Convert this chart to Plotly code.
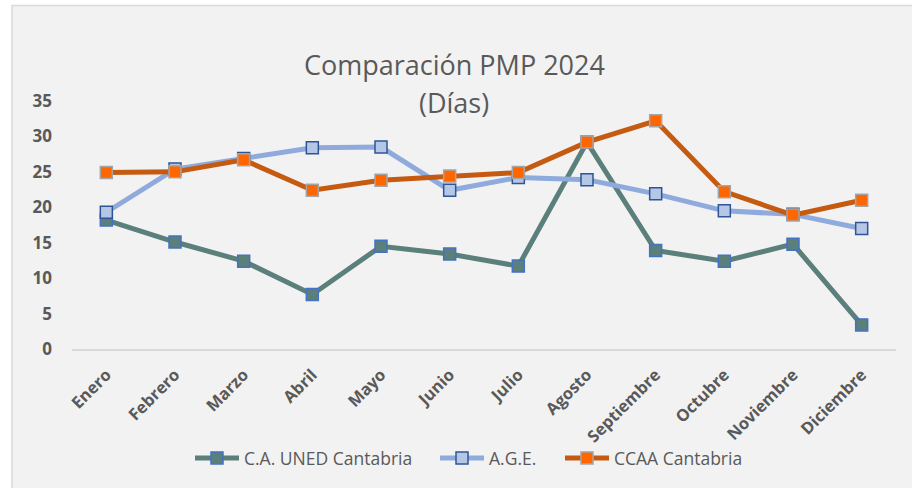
import plotly.graph_objects as go

months = ["Enero", "Febrero", "Marzo", "Abril", "Mayo", "Junio", "Julio",
          "Agosto", "Septiembre", "Octubre", "Noviembre", "Diciembre"]
uned = [18.2, 15.1, 12.4, 7.7, 14.5, 13.4, 11.7, 29.2, 13.9, 12.4, 14.8, 3.4]
age = [19.3, 25.4, 26.9, 28.4, 28.5, 22.4, 24.2, 23.9, 21.9, 19.5, 19.0, 17.0]
ccaa = [24.9, 25.0, 26.7, 22.4, 23.8, 24.4, 24.9, 29.2, 32.2, 22.2, 18.9, 21.0]
y_ticks = [0, 5, 10, 15, 20, 25, 30, 35]

FONT = "Open Sans"
GREY = "#595959"
L, R, T, B, W, H = 72, 16, 101, 139, 912, 488


def px_x(p):
    return (p - L) / (W - L - R)


def px_y(p):
    return (H - B - p) / (H - T - B)


fig = go.Figure()
fig.add_trace(go.Scatter(
    x=months, y=uned, name="C.A. UNED Cantabria", mode="lines+markers",
    line=dict(color="#5B7F7B", width=5), legend="legend",
    marker=dict(symbol="square", size=12, color="#5B7F7B",
                line=dict(color="#4472C4", width=1.5))))
fig.add_trace(go.Scatter(
    x=months, y=age, name="A.G.E.", mode="lines+markers",
    line=dict(color="#8FAADC", width=5), legend="legend2",
    marker=dict(symbol="square", size=12, color="#B4C7E7",
                line=dict(color="#2F5597", width=1.5))))
fig.add_trace(go.Scatter(
    x=months, y=ccaa, name="CCAA Cantabria", mode="lines+markers",
    line=dict(color="#C55A11", width=5), legend="legend3",
    marker=dict(symbol="square", size=12, color="#FF6600",
                line=dict(color="#A5A5A5", width=1.5))))


def leg(px_left):
    return dict(orientation="h", x=px_x(px_left), xanchor="left",
                y=px_y(458), yanchor="middle",
                font=dict(size=17.5, color=GREY, family=FONT),
                bgcolor="rgba(0,0,0,0)", itemwidth=44)


fig.update_layout(
    width=W, height=H,
    margin=dict(l=L, r=R, t=T, b=B),
    paper_bgcolor="white",
    plot_bgcolor="rgba(0,0,0,0)",
    font=dict(family=FONT, color=GREY),
    showlegend=True,
    legend=leg(190),
    legend2=leg(435),
    legend3=leg(560),
    xaxis=dict(range=[-0.5, 11.5], tickangle=-45, showgrid=False,
               showline=True, linecolor="#D9D9D9", linewidth=1.5,
               ticks="", ticklabelstandoff=8,
               tickfont=dict(size=16.5, color=GREY, family=FONT, weight="bold"),
               zeroline=False, fixedrange=True),
    yaxis=dict(range=[0, 35], tickvals=y_ticks, showgrid=False, zeroline=False,
               showline=False, ticks="", ticklabelstandoff=19,
               tickfont=dict(size=17, color=GREY, family=FONT, weight="bold"),
               fixedrange=True),
    shapes=[dict(type="rect", xref="paper", yref="paper",
                 x0=px_x(12), x1=px_x(920), y0=px_y(496), y1=px_y(5.5),
                 fillcolor="#F2F2F2", line=dict(color="#D9D9D9", width=1.5),
                 layer="below")],
    annotations=[
        dict(text="Comparación PMP 2024", xref="paper", yref="paper",
             x=px_x(454), y=px_y(64), xanchor="center", yanchor="middle",
             showarrow=False, font=dict(size=27, color=GREY, family=FONT)),
        dict(text="(Días)", xref="paper", yref="paper",
             x=px_x(454), y=px_y(102), xanchor="center", yanchor="middle",
             showarrow=False, font=dict(size=27, color=GREY, family=FONT)),
    ],
)

fig.write_html("out.html", config={"displayModeBar": False},
               post_script="document.body.style.margin='0';document.body.style.overflow='hidden';")
